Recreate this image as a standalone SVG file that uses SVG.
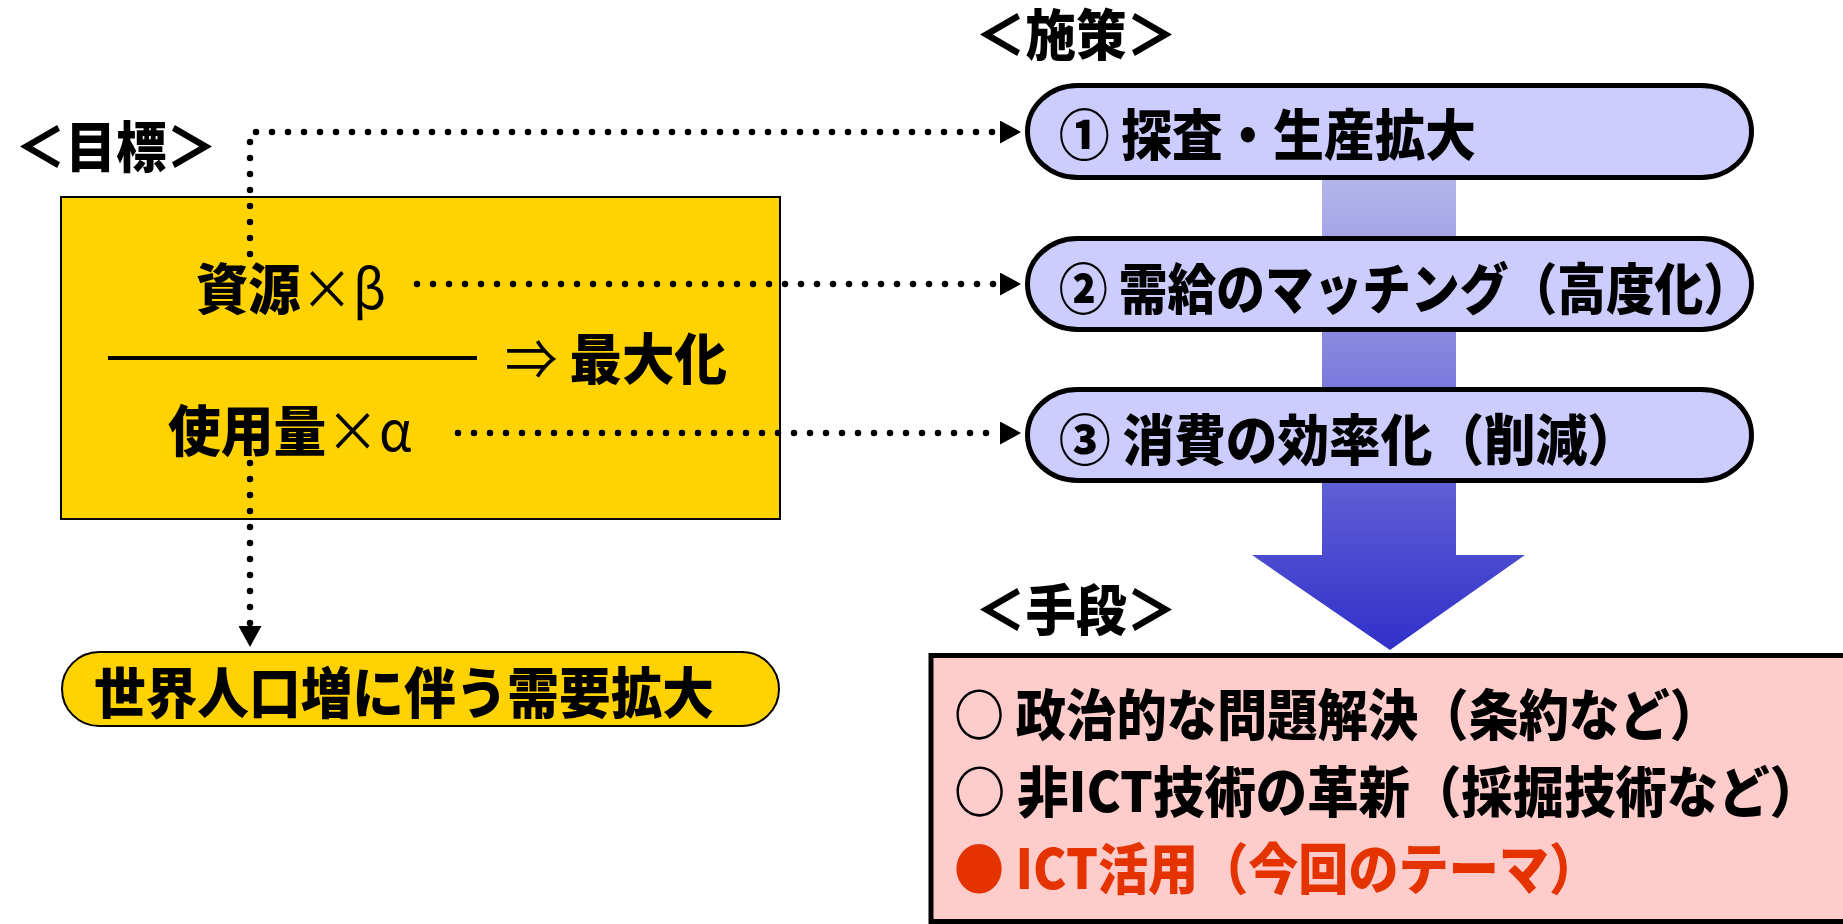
<svg xmlns="http://www.w3.org/2000/svg" width="1843" height="924" viewBox="0 0 1843 924">
<style>
.t{font-family:"Noto Sans CJK JP","Noto Sans",sans-serif;font-weight:900;font-size:55px;fill:#000}
.n{font-weight:400}
.red{fill:#E53300}
.pill{fill:#CCCCFF;stroke:#000;stroke-width:5}
.dot{fill:none;stroke:#000;stroke-width:6.5;stroke-linecap:round;stroke-dasharray:0 16}
</style>
<defs>
<linearGradient id="ag" x1="0" y1="178" x2="0" y2="650" gradientUnits="userSpaceOnUse">
<stop offset="0" stop-color="#B5B5EB"/>
<stop offset="1" stop-color="#3030CA"/>
</linearGradient>
<marker id="ah" viewBox="0 0 21 23" refX="0" refY="11.5" markerWidth="21" markerHeight="23" markerUnits="userSpaceOnUse" orient="auto">
<path d="M0,0 L21,11.5 L0,23 z" fill="#000"/>
</marker>
</defs>
<rect width="1843" height="924" fill="#fff"/>

<g id="labels">
<text class="t" x="15" y="167" textLength="202" lengthAdjust="spacingAndGlyphs">＜目標＞</text>
<text class="t" x="975" y="55" textLength="202" lengthAdjust="spacingAndGlyphs">＜施策＞</text>
<text class="t" x="975" y="630" textLength="202" lengthAdjust="spacingAndGlyphs">＜手段＞</text>
</g>

<g id="goal">
<rect x="61" y="197" width="719" height="322" fill="#FFD200" stroke="#000" stroke-width="2"/>
<text class="t" x="196" y="309" textLength="190" lengthAdjust="spacingAndGlyphs">資源<tspan class="n">×β</tspan></text>
<line x1="108" y1="358" x2="477" y2="358" stroke="#000" stroke-width="4"/>
<text class="t" x="505" y="379" textLength="222" lengthAdjust="spacingAndGlyphs"><tspan class="n">⇒</tspan> 最大化</text>
<text class="t" x="168" y="451" textLength="244" lengthAdjust="spacingAndGlyphs">使用量<tspan class="n">×α</tspan></text>
</g>

<g id="demand">
<rect x="62" y="652" width="717" height="74" rx="37" ry="37" fill="#FFD200" stroke="#000" stroke-width="2"/>
<text class="t" x="94" y="713" textLength="620" lengthAdjust="spacingAndGlyphs">世界人口増に伴う需要拡大</text>
</g>

<g id="flow-arrow">
<polygon points="1322,178 1456,178 1456,555 1525,555 1390,650 1252,555 1322,555" fill="url(#ag)"/>
</g>

<g id="measure1">
<rect class="pill" x="1027.5" y="85.5" width="724" height="92" rx="50" ry="46"/>
<text class="t" x="1059" y="155" textLength="417" lengthAdjust="spacingAndGlyphs">① 探査・生産拡大</text>
</g>
<g id="measure2">
<rect class="pill" x="1027.5" y="238.5" width="724" height="91" rx="50" ry="45.5"/>
<text class="t" x="1059" y="309" textLength="693" lengthAdjust="spacingAndGlyphs">② 需給のマッチング（高度化）</text>
</g>
<g id="measure3">
<rect class="pill" x="1027.5" y="389.5" width="724" height="91" rx="50" ry="45.5"/>
<text class="t" x="1059" y="460" textLength="580" lengthAdjust="spacingAndGlyphs">③ 消費の効率化（削減）</text>
</g>

<g id="means">
<rect x="931" y="655.5" width="912" height="266" fill="#FFCCCC"/>
<path d="M1843,655.5 H931 V921.5 H1843" fill="none" stroke="#000" stroke-width="5"/>
<text class="t" x="954" y="735" textLength="766" lengthAdjust="spacingAndGlyphs">○ 政治的な問題解決（条約など）</text>
<text class="t" x="954" y="812" textLength="867" lengthAdjust="spacingAndGlyphs">○ 非ICT技術の革新（採掘技術など）</text>
<text class="t red" x="954" y="889" textLength="645" lengthAdjust="spacingAndGlyphs">● ICT活用（今回のテーマ）</text>
</g>

<g id="connectors">
<path class="dot" d="M250,254 V132 H1000" marker-end="url(#ah)"/>
<path class="dot" d="M417,284 H1000" marker-end="url(#ah)"/>
<path class="dot" d="M458,433 H1000" marker-end="url(#ah)"/>
<path class="dot" d="M250,463 V626" marker-end="url(#ah)"/>
</g>
</svg>
